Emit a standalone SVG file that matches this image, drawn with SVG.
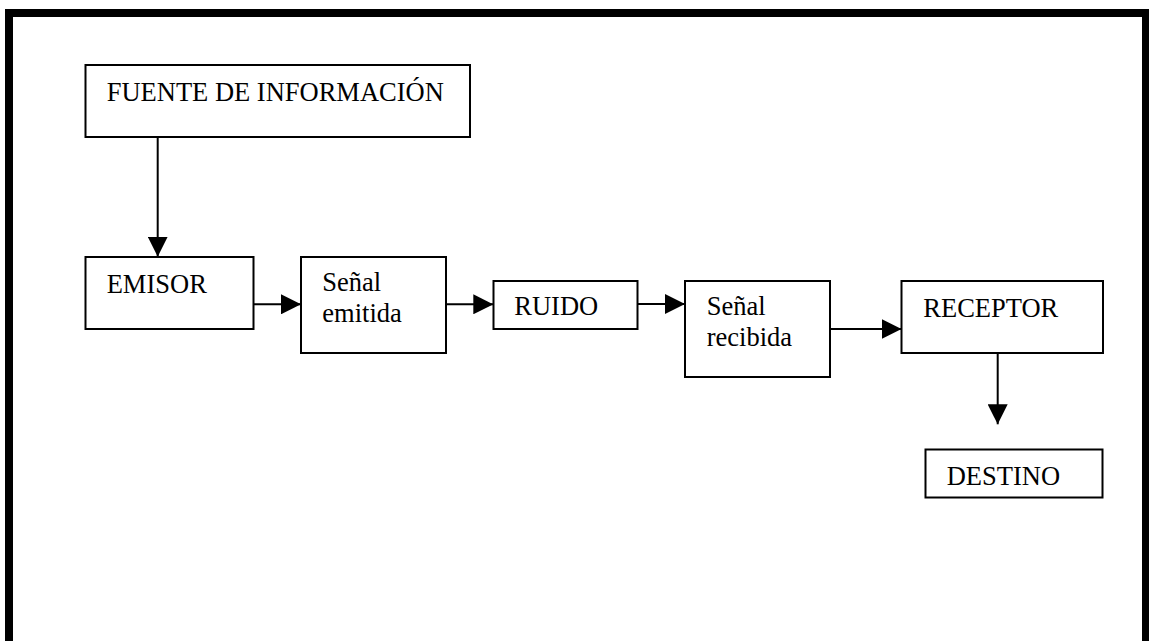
<svg xmlns="http://www.w3.org/2000/svg" width="1149" height="641" viewBox="0 0 1149 641">
  <style>
    .box { fill: #ffffff; stroke: #000000; stroke-width: 2; }
    .lbl { font-family: 'Liberation Serif', 'Times New Roman', 'DejaVu Serif', 'Noto Serif', serif; font-size: 26.5px; fill: #000000; }
    .conn { stroke: #000000; stroke-width: 2; fill: none; marker-end: url(#arrow); }
    .frame { fill: none; stroke: #000000; stroke-width: 8; }
  </style>
  <defs>
    <marker id="arrow" markerUnits="userSpaceOnUse" markerWidth="20" markerHeight="20" refX="20" refY="10" orient="auto" viewBox="0 0 20 20">
      <path d="M0,0 L20,10 L0,20 Z" fill="#000000"/>
    </marker>
  </defs>
  <rect width="1149" height="641" fill="#ffffff"/>
  <rect class="frame" x="9" y="13" width="1137" height="700"/>

  <g id="connectors">
    <line class="conn" x1="157.7" y1="137" x2="157.7" y2="256.7"/>
    <line class="conn" x1="253.7" y1="304.3" x2="301" y2="304.3"/>
    <line class="conn" x1="446" y1="304.3" x2="493.3" y2="304.3"/>
    <line class="conn" x1="637.7" y1="304" x2="685" y2="304"/>
    <line class="conn" x1="830" y1="329" x2="901.5" y2="329"/>
    <line class="conn" x1="997.7" y1="352.7" x2="997.7" y2="424.3"/>
  </g>

  <g id="fuente">
    <rect class="box" x="85.5" y="65" width="384.5" height="72"/>
    <text class="lbl" x="106.7" y="101" font-family="Liberation Serif, DejaVu Serif, serif">FUENTE DE INFORMACIÓN</text>
  </g>
  <g id="emisor">
    <rect class="box" x="85.5" y="257" width="168" height="72"/>
    <text class="lbl" x="106.7" y="292.7">EMISOR</text>
  </g>
  <g id="senal-emitida">
    <rect class="box" x="301" y="257" width="145" height="96"/>
    <text class="lbl" x="322.3" y="291">Señal</text>
    <text class="lbl" x="322.3" y="322">emitida</text>
  </g>
  <g id="ruido">
    <rect class="box" x="493.5" y="281" width="144" height="48"/>
    <text class="lbl" x="514.3" y="315">RUIDO</text>
  </g>
  <g id="senal-recibida">
    <rect class="box" x="685" y="281" width="145" height="96"/>
    <text class="lbl" x="706.7" y="315">Señal</text>
    <text class="lbl" x="706.7" y="346">recibida</text>
  </g>
  <g id="receptor">
    <rect class="box" x="901.5" y="281" width="201.5" height="72"/>
    <text class="lbl" x="923.3" y="317">RECEPTOR</text>
  </g>
  <g id="destino">
    <rect class="box" x="925.5" y="449.5" width="177" height="48"/>
    <text class="lbl" x="946.7" y="485">DESTINO</text>
  </g>
</svg>
